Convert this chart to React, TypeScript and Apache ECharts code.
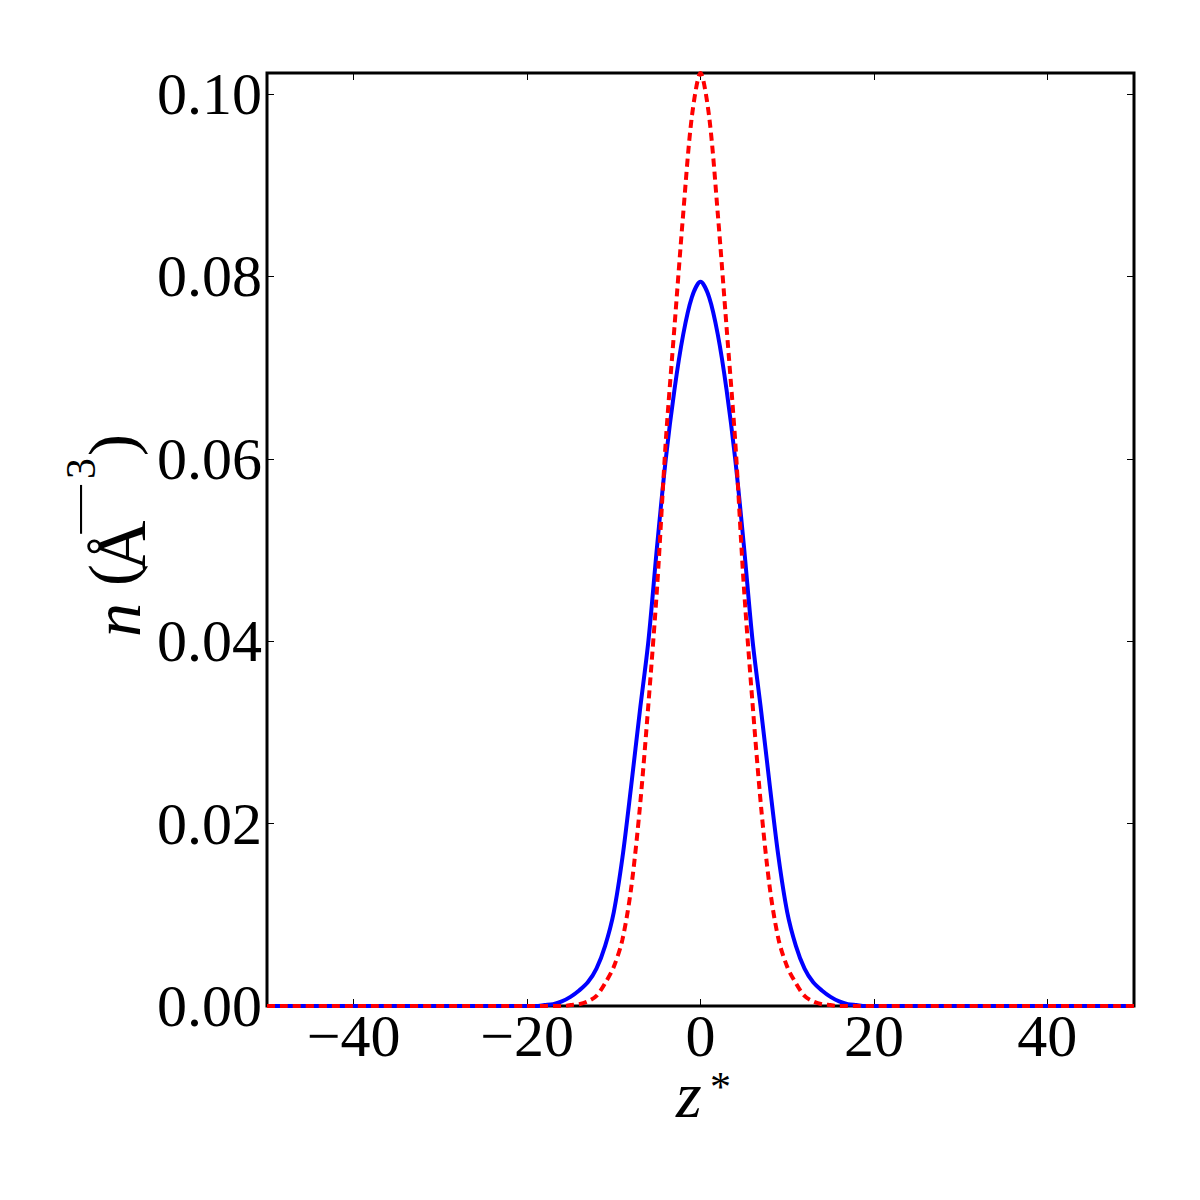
import React, { useEffect, useRef } from "react";
import * as echarts from "echarts";

const zValues = [
  -50, -20, -19, -18, -17, -16, -15, -14, -13, -12, -11, -10, -9, -8, -7, -6, -5, -4, -3, -2, -1,
  0, 1, 2, 3, 4, 5, 6, 7, 8, 9, 10, 11, 12, 13, 14, 15, 16, 17, 18, 19, 20, 50,
];

// solid blue curve, n (Å^-3)
const blueDensity = [
  0, 0.0, 0.0, 0.0001, 0.0002, 0.0005, 0.001, 0.0017, 0.0026, 0.0041, 0.0066, 0.0103, 0.0163, 0.0241, 0.0323, 0.0401, 0.0505, 0.06, 0.0676, 0.0736, 0.0777,
  0.0794, 0.0777, 0.0736, 0.0676, 0.06, 0.0505, 0.0401, 0.0323, 0.0241, 0.0163, 0.0103, 0.0066, 0.0041, 0.0026, 0.0017, 0.001, 0.0005, 0.0002, 0.0001, 0.0, 0.0, 0,
];

// dashed red curve, n (Å^-3)
const redDensity = [
  0, 0.0, 0.0, 0.0, 0.0, 0.0, 0.0001, 0.0002, 0.0005, 0.0011, 0.0025, 0.0043, 0.0073, 0.0129, 0.0217, 0.0332, 0.046, 0.062, 0.0745, 0.0868, 0.0975,
  0.1023, 0.0975, 0.0868, 0.0745, 0.062, 0.046, 0.0332, 0.0217, 0.0129, 0.0073, 0.0043, 0.0025, 0.0011, 0.0005, 0.0002, 0.0001, 0.0, 0.0, 0.0, 0.0, 0.0, 0,
];

const xTickValues = [-40, -20, 0, 20, 40];
const yTickValues = [0, 0.02, 0.04, 0.06, 0.08, 0.1];
const xMin = -50;
const xMax = 50;
const yMin = 0;
const yMax = 0.1023;

const FONT = "'Liberation Serif', 'Times New Roman', serif";

export default function App() {
  const ref = useRef<HTMLDivElement>(null);

  useEffect(() => {
    const chart = echarts.init(ref.current!, null, { renderer: "svg" });
    const fmtX = (v: number) => (v < 0 ? "\u2212" + Math.abs(v) : String(v));
    const tick = (vals: number[]) => ({
      show: true,
      inside: true,
      length: 7,
      customValues: vals,
      lineStyle: { color: "#000", width: 1 },
    });
    const noLine = { show: false, onZero: false };
    const hidden = { show: false };
    const txt = (text: string, x: number, y: number, fontSize: number, extra: any = {}) => ({
      type: "text",
      x,
      y,
      ...(extra.scaleX ? { scaleX: extra.scaleX } : {}),
      style: {
        text,
        fontFamily: FONT,
        fontStyle: extra.italic ? "italic" : "normal",
        fontSize,
        lineHeight: extra.lineHeight || fontSize,
        fill: "#000",
        align: "left",
        verticalAlign: "middle",
      },
    });

    const option: any = {
      animation: false,
      backgroundColor: "#ffffff",
      grid: {
        left: 267,
        right: 66,
        top: 73,
        bottom: 194,
        show: true,
        borderColor: "#000",
        borderWidth: 3,
        backgroundColor: "transparent",
        containLabel: false,
      },
      xAxis: [
        {
          type: "value",
          min: xMin,
          max: xMax,
          position: "bottom",
          axisLine: noLine,
          splitLine: hidden,
          axisTick: tick(xTickValues),
          axisLabel: {
            customValues: xTickValues,
            formatter: fmtX,
            fontFamily: FONT,
            fontSize: 60,
            lineHeight: 44,
            color: "#000",
            margin: 8,
          },
        },
        {
          type: "value",
          min: xMin,
          max: xMax,
          position: "top",
          axisLine: noLine,
          splitLine: hidden,
          axisTick: tick(xTickValues),
          axisLabel: hidden,
        },
      ],
      yAxis: [
        {
          type: "value",
          min: yMin,
          max: yMax,
          position: "left",
          axisLine: noLine,
          splitLine: hidden,
          axisTick: tick(yTickValues),
          axisLabel: {
            customValues: yTickValues,
            formatter: (v: number) => v.toFixed(2),
            fontFamily: FONT,
            fontSize: 60,
            color: "#000",
            margin: 5,
            padding: [0, 0, 9, 0],
          },
        },
        {
          type: "value",
          min: yMin,
          max: yMax,
          position: "right",
          axisLine: noLine,
          splitLine: hidden,
          axisTick: tick(yTickValues),
          axisLabel: hidden,
        },
      ],
      series: [
        {
          type: "line",
          xAxisIndex: 0,
          yAxisIndex: 0,
          data: zValues.map((z, i) => [z, blueDensity[i]]),
          symbol: "none",
          smooth: 0.3,
          lineStyle: { color: "#0000ff", width: 4 },
          itemStyle: { color: "#0000ff" },
          z: 3,
        },
        {
          type: "line",
          xAxisIndex: 0,
          yAxisIndex: 0,
          data: zValues.map((z, i) => [z, redDensity[i]]),
          symbol: "none",
          smooth: 0.3,
          lineStyle: { color: "#ff0000", width: 4, type: [8, 5] },
          itemStyle: { color: "#ff0000" },
          z: 4,
        },
      ],
      graphic: [
        txt("z", 676, 1094, 66, { italic: true, lineHeight: 40 }),
        txt("*", 710, 1087, 42, { lineHeight: 26 }),
        {
          type: "group",
          x: 140,
          y: 637,
          rotation: Math.PI / 2,
          children: [
            txt("n", 0, -23, 68, { italic: true }),
            txt("(", 51, -29, 66),
            txt("Å", 66, -19, 70),
            txt("\u2212", 98, -59, 42, { scaleX: 2.5 }),
            txt("3", 158, -59, 42),
            txt(")", 181, -29, 66),
          ],
        },
      ],
    };

    chart.setOption(option);
    return () => chart.dispose();
  }, []);

  return (
    <div
      ref={ref}
      style={{ position: "fixed", left: 0, top: 0, width: 1200, height: 1200, background: "#fff" }}
    />
  );
}
